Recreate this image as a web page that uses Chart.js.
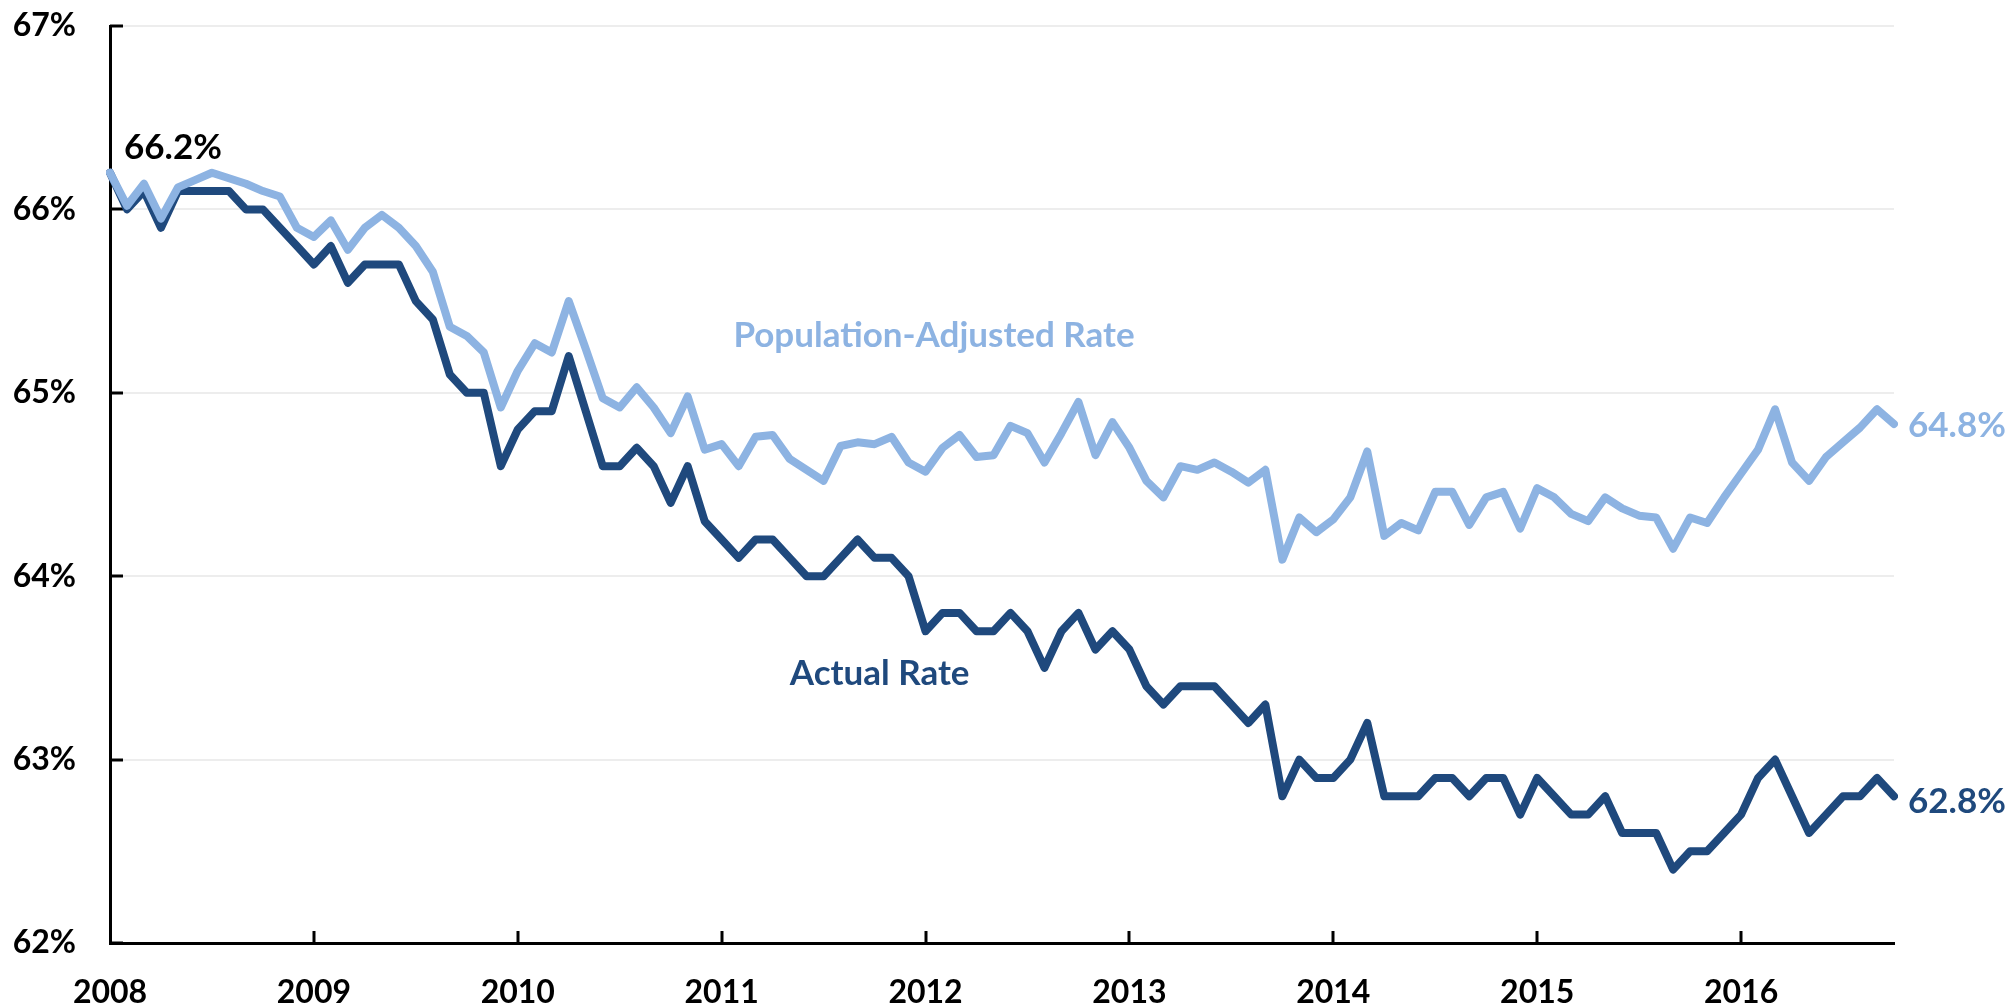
<!DOCTYPE html>
<html>
<head>
<meta charset="utf-8">
<script src="https://cdn.jsdelivr.net/npm/chart.js@4.4.1/dist/chart.umd.min.js"></script>
<style>
  html, body { margin: 0; padding: 0; background: #ffffff; }
  #wrap { width: 2007px; height: 1006px; }
</style>
</head>
<body>
<div id="wrap"><canvas id="c" width="2007" height="1006"></canvas></div>
<script>
// ---- data ----
const years = ['2008','2009','2010','2011','2012','2013','2014','2015','2016'];
const monthsInLastYear = 10; // Jan..Oct 2016
const yTicks = [62, 63, 64, 65, 66, 67];

const actualRate = [
  66.2, 66.0, 66.1, 65.9, 66.1, 66.1, 66.1, 66.1, 66.0, 66.0, 65.9, 65.8,
  65.7, 65.8, 65.6, 65.7, 65.7, 65.7, 65.5, 65.4, 65.1, 65.0, 65.0, 64.6,
  64.8, 64.9, 64.9, 65.2, 64.9, 64.6, 64.6, 64.7, 64.6, 64.4, 64.6, 64.3,
  64.2, 64.1, 64.2, 64.2, 64.1, 64.0, 64.0, 64.1, 64.2, 64.1, 64.1, 64.0,
  63.7, 63.8, 63.8, 63.7, 63.7, 63.8, 63.7, 63.5, 63.7, 63.8, 63.6, 63.7,
  63.6, 63.4, 63.3, 63.4, 63.4, 63.4, 63.3, 63.2, 63.3, 62.8, 63.0, 62.9,
  62.9, 63.0, 63.2, 62.8, 62.8, 62.8, 62.9, 62.9, 62.8, 62.9, 62.9, 62.7,
  62.9, 62.8, 62.7, 62.7, 62.8, 62.6, 62.6, 62.6, 62.4, 62.5, 62.5, 62.6,
  62.7, 62.9, 63.0, 62.8, 62.6, 62.7, 62.8, 62.8, 62.9, 62.8
];

const popAdjustedRate = [
  66.20, 66.02, 66.14, 65.95, 66.12, 66.16, 66.20, 66.17, 66.14, 66.10, 66.07, 65.90,
  65.85, 65.94, 65.78, 65.90, 65.97, 65.90, 65.80, 65.66, 65.36, 65.31, 65.22, 64.92,
  65.12, 65.27, 65.22, 65.50, 65.24, 64.97, 64.92, 65.03, 64.92, 64.78, 64.98, 64.69,
  64.72, 64.60, 64.76, 64.77, 64.64, 64.58, 64.52, 64.71, 64.73, 64.72, 64.76, 64.62,
  64.57, 64.70, 64.77, 64.65, 64.66, 64.82, 64.78, 64.62, 64.78, 64.95, 64.66, 64.84,
  64.70, 64.52, 64.43, 64.60, 64.58, 64.62, 64.57, 64.51, 64.58, 64.09, 64.32, 64.24,
  64.31, 64.43, 64.68, 64.22, 64.29, 64.25, 64.46, 64.46, 64.28, 64.43, 64.46, 64.26,
  64.48, 64.43, 64.34, 64.30, 64.43, 64.37, 64.33, 64.32, 64.15, 64.32, 64.29, 64.43,
  64.56, 64.69, 64.91, 64.62, 64.52, 64.65, 64.73, 64.81, 64.91, 64.83
];

const seriesNames = ['Population-Adjusted Rate', 'Actual Rate'];
const startLabel = '66.2%';
const endLabels = ['64.8%', '62.8%'];

// month categories built from the year list
const categories = [];
years.forEach((y, yi) => {
  const n = (yi === years.length - 1) ? monthsInLastYear : 12;
  for (let m = 1; m <= n; m++) categories.push(y + '-' + String(m).padStart(2, '0'));
});

// ---- style ----
const DARK = '#1F497D';
const LIGHT = '#8DB3E2';
const FONT = 'Lato, "Open Sans", sans-serif';

const innerTicks = {
  id: 'innerTicks',
  beforeDatasetsDraw(chart) {
    const {ctx, scales: {x, y}} = chart;
    ctx.save();
    ctx.strokeStyle = '#000';
    ctx.lineWidth = 3;
    yTicks.forEach(v => {
      const py = Math.round(y.getPixelForValue(v));
      ctx.beginPath(); ctx.moveTo(x.left, py); ctx.lineTo(x.left + 13, py); ctx.stroke();
    });
    categories.forEach((c, i) => {
      if (c.endsWith('-01') && i > 0) {
        const px = Math.round(x.getPixelForValue(i));
        ctx.beginPath(); ctx.moveTo(px, y.bottom); ctx.lineTo(px, y.bottom - 12); ctx.stroke();
      }
    });
    ctx.restore();
  }
};

const annotations = {
  id: 'annotations',
  afterDatasetsDraw(chart) {
    const {ctx, scales: {x, y}} = chart;
    const last = categories.length - 1;
    ctx.save();
    ctx.font = 'bold 35px ' + FONT;
    ctx.textBaseline = 'middle';
    ctx.textAlign = 'left';
    // start label
    ctx.fillStyle = '#000';
    ctx.fillText(startLabel, x.getPixelForValue(0) + 14, y.getPixelForValue(actualRate[0]) - 25);
    // end labels
    ctx.fillStyle = LIGHT;
    ctx.fillText(endLabels[0], x.getPixelForValue(last) + 14, y.getPixelForValue(popAdjustedRate[last]) + 2);
    ctx.fillStyle = DARK;
    ctx.fillText(endLabels[1], x.getPixelForValue(last) + 14, y.getPixelForValue(actualRate[last]) + 5);
    // series names
    ctx.textAlign = 'center';
    ctx.fillStyle = LIGHT;
    ctx.fillText(seriesNames[0], x.getPixelForValue(48.5), y.getPixelForValue(65.31));
    ctx.fillStyle = DARK;
    ctx.fillText(seriesNames[1], x.getPixelForValue(45.3), y.getPixelForValue(63.47));
    ctx.restore();
  }
};

new Chart(document.getElementById('c'), {
  type: 'line',
  data: {
    labels: categories,
    datasets: [
      { label: seriesNames[1], data: actualRate, borderColor: DARK, backgroundColor: DARK,
        borderWidth: 8, pointRadius: 0, tension: 0, order: 1,
        borderJoinStyle: 'round', borderCapStyle: 'round' },
      { label: seriesNames[0], data: popAdjustedRate, borderColor: LIGHT, backgroundColor: LIGHT,
        borderWidth: 8, pointRadius: 0, tension: 0, order: 0,
        borderJoinStyle: 'round', borderCapStyle: 'round' }
    ]
  },
  options: {
    responsive: false,
    animation: false,
    devicePixelRatio: 1,
    layout: { padding: { top: 26, right: 113, bottom: 0, left: 0 } },
    plugins: { legend: { display: false }, tooltip: { enabled: false } },
    scales: {
      x: {
        type: 'category',
        offset: false,
        grid: { display: false, drawTicks: false },
        border: { display: true, color: '#000', width: 3 },
        ticks: {
          autoSkip: false, maxRotation: 0, minRotation: 0, padding: 30,
          color: '#000', font: { family: FONT, size: 32, weight: 'bold' },
          callback: function(val, idx) {
            const c = categories[idx];
            return c.endsWith('-01') ? c.slice(0, 4) : '';
          }
        },
        afterFit(scale) { scale.height = 63; scale.paddingLeft = 0; scale.paddingRight = 0; }
      },
      y: {
        min: 62, max: 67,
        grid: { color: '#EDEDED', lineWidth: 2, drawTicks: false },
        border: { display: true, color: '#000', width: 3 },
        ticks: {
          stepSize: 1, padding: 34, color: '#000',
          font: { family: FONT, size: 32, weight: 'bold' },
          callback: v => v + '%'
        },
        afterFit(scale) { scale.width = 110; scale.paddingTop = 0; scale.paddingBottom = 0; }
      }
    }
  },
  plugins: [innerTicks, annotations]
});
</script>
</body>
</html>
